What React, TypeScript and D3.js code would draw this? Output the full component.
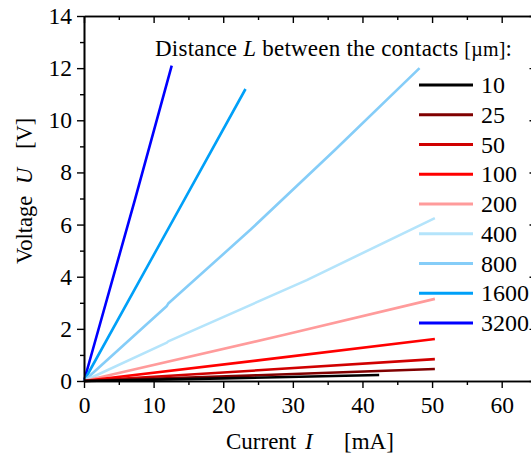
import React, { useRef, useEffect } from "react";
import { select, scaleLinear, line, axisLeft, axisBottom, axisTop, axisRight, range } from "d3";

// L in µm
const distances = ["10", "25", "50", "100", "200", "400", "800", "1600", "3200"];
const colours = ["#000000", "#800000", "#d00000", "#ff0000", "#ff9b9b", "#b4e4fb", "#85cdf8", "#00a0f8", "#0000ff"];

// [I mA, U V]
const iv10 = [[0, 0], [20, 0.1], [42.4, 0.23]];
const iv25 = [[0, 0], [25, 0.22], [50.4, 0.46]];
const iv50 = [[0, 0], [25, 0.41], [50.4, 0.84]];
const iv100 = [[0, 0], [25, 0.79], [50.4, 1.61]];
const iv200 = [[0, 0], [28.8, 1.77], [50.4, 3.15]];
const iv400 = [[0, 0], [11.9, 1.47], [12.1, 1.52], [32, 3.87], [50.4, 6.25]];
const iv800 = [[0, 0], [11.9, 2.88], [12.1, 2.97], [23.9, 5.8], [36, 8.85], [48.2, 12.0]];
const iv1600 = [[0, 0], [14.4, 6.95], [23.2, 11.2]];
const iv3200 = [[0, 0], [7.3, 6.94], [12.6, 12.1]];
const curves = [iv10, iv25, iv50, iv100, iv200, iv400, iv800, iv1600, iv3200];

const xTicks = [0, 10, 20, 30, 40, 50, 60];
const xMinor = [5, 15, 25, 35, 45, 55, 65];
const yTicks = [0, 2, 4, 6, 8, 10, 12, 14];
const yMinor = [1, 3, 5, 7, 9, 11, 13];

const W = 531;
const H = 456;
const serif = "'Liberation Serif', 'Times New Roman', serif";

const App = () => {
    const svgRef = useRef<SVGSVGElement>(null);

    useEffect(() => {
        const svg = select(svgRef.current);
        svg.selectAll("*").remove();

        const xScale = scaleLinear().domain([0, 65]).range([84, 536.5]);
        const yScale = scaleLinear().domain([0, 14]).range([381, 16]);

        // data lines, widest spacing first so black ends on top
        const lineGen = line<number[]>()
            .x(d => xScale(d[0]))
            .y(d => yScale(d[1]));

        for (let i = curves.length - 1; i >= 0; i--) {
            svg.append("path")
                .datum(curves[i])
                .attr("fill", "none")
                .attr("stroke", colours[i])
                .attr("stroke-width", 2.6)
                .attr("stroke-linejoin", "round")
                .attr("d", lineGen);
        }

        const styleAxis = (g) => {
            g.selectAll("path").attr("stroke", "#000").attr("stroke-width", 1.6);
            g.selectAll("line").attr("stroke", "#000").attr("stroke-width", 1.4);
            g.selectAll("text").attr("font-family", serif).attr("font-size", 23.5).attr("fill", "#000");
            g.attr("font-family", null).attr("font-size", null);
        };

        // left
        svg.append("g").attr("transform", "translate(84,0)")
            .call(axisLeft(yScale).tickValues(yMinor).tickSize(4).tickSizeOuter(0).tickFormat(() => ""))
            .call(styleAxis);
        svg.append("g").attr("transform", "translate(84,0)")
            .call(axisLeft(yScale).tickValues(yTicks).tickSize(7).tickSizeOuter(0).tickPadding(5))
            .call(styleAxis);

        // bottom
        svg.append("g").attr("transform", "translate(0,381)")
            .call(axisBottom(xScale).tickValues(xMinor).tickSize(4).tickSizeOuter(0).tickFormat(() => ""))
            .call(styleAxis);
        svg.append("g").attr("transform", "translate(0,381)")
            .call(axisBottom(xScale).tickValues(xTicks).tickSize(7).tickSizeOuter(0).tickPadding(8))
            .call(styleAxis);

        // top + right, ticks inward
        svg.append("g").attr("transform", "translate(0,16)")
            .call(axisTop(xScale).tickValues(xMinor).tickSize(-4).tickSizeOuter(0).tickFormat(() => ""))
            .call(styleAxis);
        svg.append("g").attr("transform", "translate(0,16)")
            .call(axisTop(xScale).tickValues(xTicks).tickSize(-7).tickSizeOuter(0).tickFormat(() => ""))
            .call(styleAxis);
        svg.append("g").attr("transform", `translate(${xScale(65)},0)`)
            .call(axisRight(yScale).tickValues(yMinor).tickSize(-4).tickSizeOuter(0).tickFormat(() => ""))
            .call(styleAxis);
        svg.append("g").attr("transform", `translate(${xScale(65)},0)`)
            .call(axisRight(yScale).tickValues(yTicks).tickSize(-7).tickSizeOuter(0).tickFormat(() => ""))
            .call(styleAxis);

        // axis titles
        const xt = svg.append("text")
            .attr("y", 449)
            .attr("font-family", serif).attr("font-size", 23);
        xt.append("tspan").attr("x", 226).text("Current");
        xt.append("tspan").attr("x", 305).attr("font-style", "italic").text("I");
        xt.append("tspan").attr("x", 344).text("[mA]");

        const yt = svg.append("text")
            .attr("transform", "translate(32,0) rotate(-90)")
            .attr("font-family", serif).attr("font-size", 22.5);
        yt.append("tspan").attr("x", -264).text("Voltage");
        yt.append("tspan").attr("x", -184).attr("font-style", "italic").text("U");
        yt.append("tspan").attr("x", -149).text("[V]");

        // legend
        const lt = svg.append("text")
            .attr("x", 155).attr("y", 56)
            .attr("font-family", serif).attr("font-size", 23)
            .attr("textLength", 357).attr("lengthAdjust", "spacing");
        lt.append("tspan").text("Distance ");
        lt.append("tspan").attr("font-style", "italic").text("L");
        lt.append("tspan").text(" between the contacts ");
        lt.append("tspan").attr("font-size", 20).text("[µm]");
        lt.append("tspan").text(":");

        const rowY = range(distances.length).map(i => 85 + i * 29.75);
        distances.forEach((d, i) => {
            svg.append("line")
                .attr("x1", 419).attr("x2", 473)
                .attr("y1", rowY[i]).attr("y2", rowY[i])
                .attr("stroke", colours[i]).attr("stroke-width", 3);
            svg.append("text")
                .attr("x", 481).attr("y", rowY[i] + 8)
                .attr("font-family", serif).attr("font-size", 24)
                .text(d);
        });
    }, []);

    return (
        <svg ref={svgRef} width={W} height={H}
            style={{ position: "absolute", left: 0, top: 0, background: "#fff" }} />
    );
};

export default App;
